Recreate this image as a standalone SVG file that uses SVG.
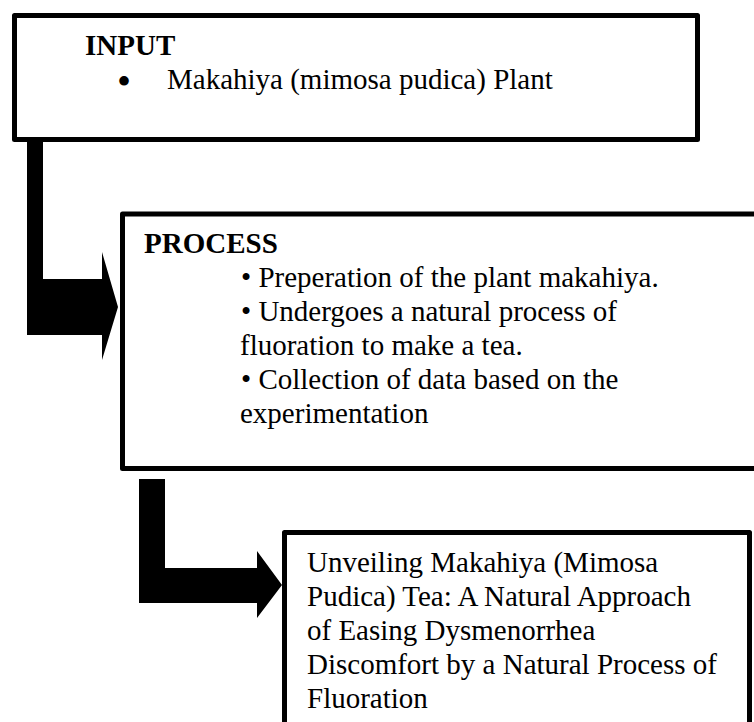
<svg xmlns="http://www.w3.org/2000/svg" width="754" height="722" viewBox="0 0 754 722">
<style>
.box{fill:#fff;stroke:#000;stroke-width:5;stroke-linejoin:round}
.arrow{fill:#000;stroke:none}
text{font-family:"Liberation Serif","Times New Roman",serif;font-size:29px;fill:#000}
.b{font-weight:bold}
</style>
<rect x="0" y="0" width="754" height="722" fill="#fff"/>
<g id="connectors">
<polygon class="arrow" points="27,138 43,138 43,279 102,279 102,252 118,307 102,360 102,335 27,335"/>
<polygon class="arrow" points="139,479 165,479 165,568 257,568 257,551 282,585 257,618 257,603 139,603"/>
</g>
<g id="input">
<rect class="box" x="14.5" y="15.5" width="683" height="124"/>
<text class="b" x="85" y="55">INPUT</text>
<text x="124" y="95" text-anchor="middle" style="font-size:40px">•</text>
<text x="167" y="89">Makahiya (mimosa pudica) Plant</text>
</g>
<g id="process">
<rect class="box" x="122.5" y="214" width="650" height="254.5"/>
<text class="b" x="144" y="253">PROCESS</text>
<text x="241" y="287">• Preperation of the plant makahiya.</text>
<text x="241" y="321">• Undergoes a natural process of</text>
<text x="240" y="355">fluoration to make a tea.</text>
<text x="241" y="389">• Collection of data based on the</text>
<text x="240" y="423">experimentation</text>
</g>
<g id="output">
<rect class="box" x="284.5" y="532.5" width="465" height="200"/>
<text x="307" y="572">Unveiling Makahiya (Mimosa</text>
<text x="307" y="606">Pudica) Tea: A Natural Approach</text>
<text x="307" y="640">of Easing Dysmenorrhea</text>
<text x="307" y="674">Discomfort by a Natural Process of</text>
<text x="307" y="708">Fluoration</text>
</g>
</svg>
